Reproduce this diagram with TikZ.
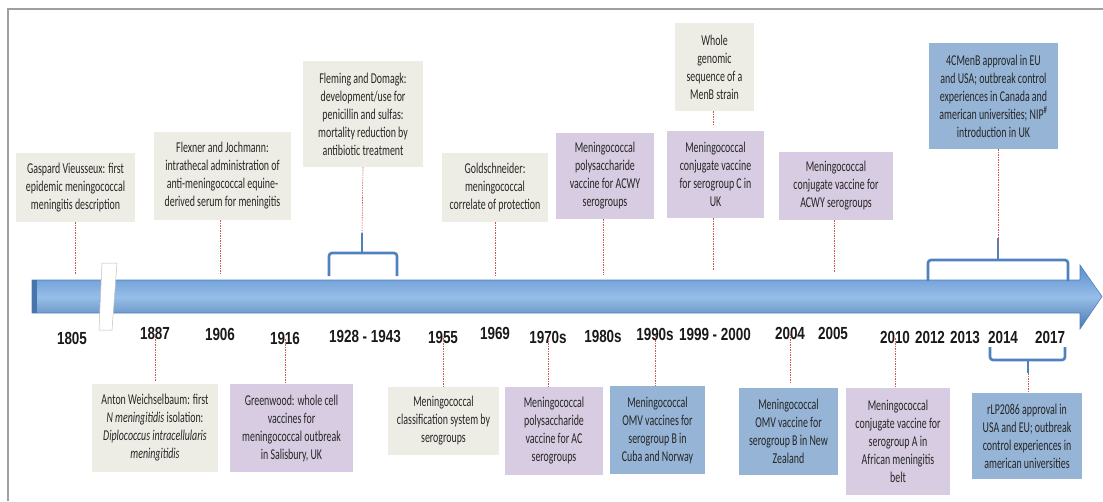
\documentclass[tikz,border=0pt]{standalone}
\usepackage{fontspec}
\newfontfamily\boxfont[FakeStretch=0.66]{Carlito}
\newfontfamily\yearfont[FakeStretch=0.77]{Liberation Sans}
\definecolor{beige}{RGB}{238,237,229}
\definecolor{lav}{RGB}{216,204,226}
\definecolor{bluebox}{RGB}{149,180,214}
\definecolor{arrowblue}{RGB}{79,129,189}
\definecolor{arrowlight}{RGB}{150,190,232}
\definecolor{arrowdark}{RGB}{90,140,205}
\definecolor{conn}{RGB}{205,85,85}
\definecolor{framegray}{RGB}{160,160,160}
\tikzset{
  evbox/.style={rectangle, inner sep=0pt, align=center,
    font=\boxfont\fontsize{15}{18}\selectfont, text=black!85},
  oldbox/.style={evbox, fill=beige},
  vacbox/.style={evbox, fill=lav},
  menbbox/.style={evbox, fill=bluebox},
  yr/.style={inner sep=0pt, font=\yearfont\bfseries\fontsize{17.5}{20}\selectfont, text=black!90},
  conline/.style={draw=conn, line width=0.6pt, dash pattern=on 1.5pt off 1pt},
  brk/.style={draw=arrowblue, line width=2.6pt, rounded corners=3pt},
}
\begin{document}
\begin{tikzpicture}[x=1pt,y=-1pt]
\useasboundingbox (0,0) rectangle (1103,501);
% frame
\draw[framegray, line width=1.4pt] (8,501) -- (8,9) -- (1103,9);

% main arrow
\shade[top color=arrowdark, bottom color=arrowdark!85!black, middle color=arrowlight, draw=arrowblue, line width=0.6pt]
  (32,280) -- (1080,280) -- (1080,265) -- (1102,296.5) -- (1080,329) -- (1080,313) -- (32,313) -- cycle;
\fill[arrowblue!90!black] (32,280) rectangle (37,313);
% break mark
\fill[white, draw=gray!50, line width=0.5pt] (102,263) -- (117,263) -- (112,330) -- (99,330) -- cycle;

% years
\node[yr] (y1805) at (72,338) {1805};
\node[yr] (y1887) at (155,333) {1887};
\node[yr] (y1906) at (220,334) {1906};
\node[yr] (y1916) at (285,338) {1916};
\node[yr] (y1928) at (365,336) {1928 - 1943};
\node[yr] (y1955) at (443,337) {1955};
\node[yr] (y1969) at (495,333) {1969};
\node[yr] (y1970) at (548,337) {1970s};
\node[yr] (y1980) at (603,336) {1980s};
\node[yr] (y1990) at (655,334) {1990s};
\node[yr] (y1999) at (715,334) {1999 - 2000};
\node[yr] (y2004) at (790,333) {2004};
\node[yr] (y2005) at (833,333) {2005};
\node[yr] (y2010) at (895,337) {2010};
\node[yr] (y2012) at (930,337) {2012};
\node[yr] (y2013) at (965,337) {2013};
\node[yr] (y2014) at (1003,337) {2014};
\node[yr] (y2017) at (1050,337) {2017};

% top boxes
\node[oldbox, minimum width=119pt, minimum height=69pt] (gasp) at (75.5,187.5)
  {Gaspard Vieusseux: first\\epidemic meningococcal\\meningitis description};
\node[oldbox, minimum width=137pt, minimum height=88pt] (flex) at (222.5,176)
  {Flexner and Jochmann:\\intrathecal administration of\\anti-meningococcal equine-\\derived serum for meningitis};
\node[oldbox, minimum width=120pt, minimum height=106pt] (flem) at (363,114)
  {Fleming and Domagk:\\development/use for\\penicillin and sulfas:\\mortality reduction by\\antibiotic treatment};
\node[oldbox, minimum width=106pt, minimum height=69pt] (gold) at (495,187.5)
  {Goldschneider:\\meningococcal\\correlate of protection};
\node[vacbox, minimum width=98pt, minimum height=86pt] (psacwy) at (605,176)
  {Meningococcal\\polysaccharide\\vaccine for ACWY\\serogroups};
\node[oldbox, minimum width=79pt, minimum height=88pt] (wgs) at (714.5,67)
  {Whole\\genomic\\sequence of a\\MenB strain};
\node[vacbox, minimum width=97pt, minimum height=87pt] (conjc) at (715.5,174.5)
  {Meningococcal\\conjugate vaccine\\for serogroup C in\\UK};
\node[vacbox, minimum width=114pt, minimum height=68pt] (conjacwy) at (836,186)
  {Meningococcal\\conjugate vaccine for\\ACWY serogroups};
\node[menbbox, minimum width=129pt, minimum height=106pt] (fourc) at (993.5,96)
  {4CMenB approval in EU\\and USA; outbreak control\\experiences in Canada and\\american universities; NIP\textsuperscript{\#}\\introduction in UK};

% bottom boxes
\node[oldbox, minimum width=126pt, minimum height=88pt] (anton) at (155,428)
  {Anton Weichselbaum: first\\\textit{N meningitidis} isolation:\\\textit{Diplococcus intracellularis}\\\textit{meningitidis}};
\node[vacbox, minimum width=123pt, minimum height=88pt] (green) at (291.5,428)
  {Greenwood: whole cell\\vaccines for\\meningococcal outbreak\\in Salisbury, UK};
\node[oldbox, minimum width=111pt, minimum height=68pt] (classif) at (443.5,421)
  {Meningococcal\\classification system by\\serogroups};
\node[vacbox, minimum width=98pt, minimum height=88pt] (psac) at (554,431)
  {Meningococcal\\polysaccharide\\vaccine for AC\\serogroups};
\node[menbbox, minimum width=95pt, minimum height=88pt] (omvcuba) at (657.5,430)
  {Meningococcal\\OMV vaccines for\\serogroup B in\\Cuba and Norway};
\node[menbbox, minimum width=99pt, minimum height=87pt] (omvnz) at (788.5,431.5)
  {Meningococcal\\OMV vaccine for\\serogroup B in New\\Zealand};
\node[vacbox, minimum width=104pt, minimum height=107pt] (conja) at (898,441.5)
  {Meningococcal\\conjugate vaccine for\\serogroup A in\\African meningitis\\belt};
\node[menbbox, minimum width=110pt, minimum height=86pt] (rlp) at (1027,436)
  {rLP2086 approval in\\USA and EU; outbreak\\control experiences in\\american universities};

% brackets
\draw[brk] (329,276) -- (329,253) -- (397,253) -- (397,276);
\draw[brk] (362,253) -- (362,233) coordinate (b1top);
\draw[brk] (928,281) -- (928,260) -- (1068,260) -- (1068,281);
\draw[brk] (998,260) -- (998,238) coordinate (b2top);
\draw[brk] (990,347) -- (990,360) -- (1065,360) -- (1065,347);
\draw[brk] (1028,360) -- (1028,373) coordinate (b3bot);

% connector end points on the arrow
\coordinate (t1805) at (75,274);
\coordinate (t1906) at (220,274);
\coordinate (t1969) at (495,275);
\coordinate (t1980) at (603,275);
\coordinate (t1999) at (713,270);
\coordinate (t2005) at (834,272);
\coordinate (wgsend) at (713,125);

% connectors
\draw[conline] (gasp.south -| t1805) -- (t1805);
\draw[conline] (flex.south -| t1906) -- (t1906);
\draw[conline] (flem.south) -- (b1top);
\draw[conline] (gold.south) -- (t1969);
\draw[conline] (psacwy.south -| t1980) -- (t1980);
\draw[conline] (wgs.south -| wgsend) -- (wgsend);
\draw[conline] (conjc.south -| t1999) -- (t1999);
\draw[conline] (conjacwy.south -| t2005) -- (t2005);
\draw[conline] (fourc.south -| b2top) -- ([yshift=-10pt]b2top);

\draw[conline] ([yshift=5pt]y1887.south) -- (anton.north |- 0,381);
\draw[conline] ([yshift=5pt]y1916.south) -- (y1916.south |- green.north);
\draw[conline] ([yshift=5pt]y1955.south) -- (y1955.south |- classif.north);
\draw[conline] ([yshift=5pt]y1970.south) -- (y1970.south |- psac.north);
\draw[conline] ([yshift=5pt]y1990.south) -- (y1990.south |- omvcuba.north);
\draw[conline] ([yshift=5pt]y2004.south) -- (y2004.south |- 0,384);
\draw[conline] ([yshift=5pt]y2010.south) -- (y2010.south |- conja.north);
\draw[conline] (b3bot) -- (b3bot |- rlp.north);
\end{tikzpicture}
\end{document}
